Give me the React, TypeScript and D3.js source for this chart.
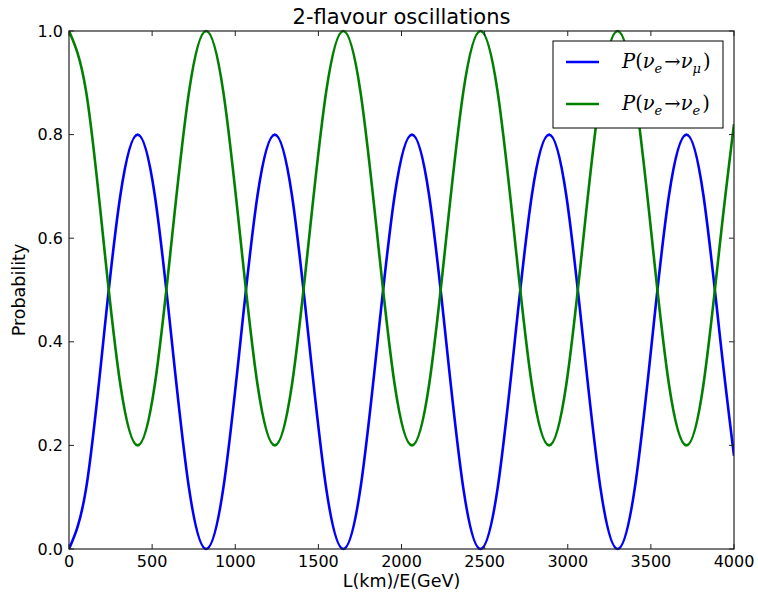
import React, { useEffect, useRef } from 'react';
import * as d3 from 'd3';

// L/E sample positions (km/GeV)
const lValues = [
  0, 103, 206, 309, 413, 516, 619, 722, 825, 928, 1031, 1134, 1238, 1341, 1444, 1547,
  1650, 1753, 1856, 1959, 2063, 2166, 2269, 2372, 2475, 2578, 2681, 2784, 2888, 2991,
  3094, 3197, 3300, 3403, 3506, 3609, 3713, 3816, 3919, 4000,
];
// P(nu_e -> nu_mu)
const pMu = [
  0, 0.117, 0.4, 0.683, 0.8, 0.683, 0.4, 0.117, 0, 0.117, 0.4, 0.683, 0.8, 0.683, 0.4, 0.117,
  0, 0.117, 0.4, 0.683, 0.8, 0.683, 0.4, 0.117, 0, 0.117, 0.4, 0.683, 0.8, 0.683,
  0.4, 0.117, 0, 0.117, 0.4, 0.683, 0.8, 0.683, 0.4, 0.18,
];
// P(nu_e -> nu_e)
const pE = [
  1, 0.883, 0.6, 0.317, 0.2, 0.317, 0.6, 0.883, 1, 0.883, 0.6, 0.317, 0.2, 0.317, 0.6, 0.883,
  1, 0.883, 0.6, 0.317, 0.2, 0.317, 0.6, 0.883, 1, 0.883, 0.6, 0.317, 0.2, 0.317,
  0.6, 0.883, 1, 0.883, 0.6, 0.317, 0.2, 0.317, 0.6, 0.82,
];
const xTicks = [0, 500, 1000, 1500, 2000, 2500, 3000, 3500, 4000];
const yTicks = [0, 0.2, 0.4, 0.6, 0.8, 1.0];

const App = () => {
  const svgRef = useRef<SVGSVGElement>(null);

  useEffect(() => {
    const width = 758;
    const height = 596;
    const left = 69, right = 734, top = 31, bottom = 549;
    const font = "'DejaVu Sans', sans-serif";

    const svg = d3.select(svgRef.current);
    svg.selectAll("*").remove();
    svg.attr("width", width).attr("height", height);

    svg.append("rect").attr("width", width).attr("height", height).attr("fill", "#fff");

    const x = d3.scaleLinear().domain([0, 4000]).range([left, right]);
    const y = d3.scaleLinear().domain([0, 1]).range([bottom, top]);

    svg.append("defs").append("clipPath").attr("id", "plotClip")
      .append("rect")
      .attr("x", left).attr("y", top - 2)
      .attr("width", right - left).attr("height", bottom - top + 4);

    const line = d3.line<number>()
      .x((_, i) => x(lValues[i]))
      .y(d => y(d))
      .curve(d3.curveNatural);

    const plot = svg.append("g").attr("clip-path", "url(#plotClip)");
    plot.append("path").attr("d", line(pMu))
      .attr("fill", "none").attr("stroke", "#0000ff").attr("stroke-width", 2.6);
    plot.append("path").attr("d", line(pE))
      .attr("fill", "none").attr("stroke", "#008000").attr("stroke-width", 2.6);

    // frame
    svg.append("rect")
      .attr("x", left).attr("y", top)
      .attr("width", right - left).attr("height", bottom - top)
      .attr("fill", "none").attr("stroke", "#222").attr("stroke-width", 1.2);

    // ticks (inward, on all sides)
    const tickLen = 5;
    xTicks.forEach(t => {
      const px = x(t);
      svg.append("line").attr("x1", px).attr("x2", px)
        .attr("y1", bottom).attr("y2", bottom - tickLen).attr("stroke", "#222");
      svg.append("line").attr("x1", px).attr("x2", px)
        .attr("y1", top).attr("y2", top + tickLen).attr("stroke", "#222");
      svg.append("text").attr("x", px).attr("y", bottom + 18)
        .attr("text-anchor", "middle").attr("font-family", font)
        .attr("font-size", "16px").attr("fill", "#000").text(String(t));
    });
    yTicks.forEach(t => {
      const py = y(t);
      svg.append("line").attr("x1", left).attr("x2", left + tickLen)
        .attr("y1", py).attr("y2", py).attr("stroke", "#222");
      svg.append("line").attr("x1", right).attr("x2", right - tickLen)
        .attr("y1", py).attr("y2", py).attr("stroke", "#222");
      svg.append("text").attr("x", left - 6).attr("y", py)
        .attr("text-anchor", "end").attr("dominant-baseline", "central")
        .attr("font-family", font).attr("font-size", "16px").attr("fill", "#000")
        .text(t.toFixed(1));
    });

    // title & axis labels
    svg.append("text").attr("x", (left + right) / 2).attr("y", 24)
      .attr("text-anchor", "middle").attr("font-family", font)
      .attr("font-size", "21px").attr("fill", "#000").text("2-flavour oscillations");
    svg.append("text").attr("x", (left + right) / 2).attr("y", 587)
      .attr("text-anchor", "middle").attr("font-family", font)
      .attr("font-size", "17.5px").attr("fill", "#000").text("L(km)/E(GeV)");
    svg.append("text")
      .attr("transform", `translate(25, ${(top + bottom) / 2}) rotate(-90)`)
      .attr("text-anchor", "middle").attr("font-family", font)
      .attr("font-size", "17.5px").attr("fill", "#000").text("Probability");

    // legend
    const lg = svg.append("g");
    lg.append("rect").attr("x", 553).attr("y", 41).attr("width", 170).attr("height", 87)
      .attr("fill", "#fff").attr("stroke", "#000").attr("stroke-width", 1);
    const entries = [
      { color: "#0000ff", y: 62, sub2: "μ" },
      { color: "#008000", y: 104, sub2: "e" },
    ];
    entries.forEach(e => {
      lg.append("line").attr("x1", 566).attr("x2", 599).attr("y1", e.y).attr("y2", e.y)
        .attr("stroke", e.color).attr("stroke-width", 2.6);
      const t = lg.append("text").attr("x", 622).attr("y", e.y + 6)
        .attr("font-family", "'DejaVu Serif', serif").attr("font-size", "19.5px")
        .attr("fill", "#000");
      t.append("tspan").attr("font-style", "italic").text("P");
      t.append("tspan").text("(");
      t.append("tspan").attr("font-style", "italic").text("ν");
      t.append("tspan").attr("font-style", "italic").attr("font-size", "13px")
        .attr("dy", 5).text("e");
      t.append("tspan").attr("dy", -5).attr("dx", 2).text("→");
      t.append("tspan").attr("font-style", "italic").text("ν");
      t.append("tspan").attr("font-style", "italic").attr("font-size", "13px")
        .attr("dy", 5).text(e.sub2);
      t.append("tspan").attr("dy", -5).attr("dx", 2).text(")");
    });
  }, []);

  return <svg ref={svgRef} style={{ position: "absolute", left: 0, top: 0 }} />;
};

export default App;
